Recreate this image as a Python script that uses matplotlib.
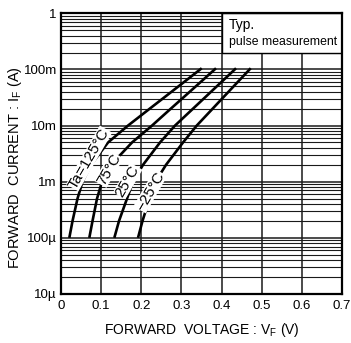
import matplotlib
matplotlib.use("Agg")
import matplotlib.pyplot as plt
from matplotlib.patches import Rectangle
from matplotlib.ticker import NullFormatter, LogLocator

plt.rcParams['font.family'] = ['Liberation Sans', 'DejaVu Sans']
plt.rcParams['mathtext.fontset'] = 'custom'
plt.rcParams['mathtext.rm'] = 'Liberation Sans'

# ---- data ----
i_levels = [1e-4, 2e-4, 5e-4, 1e-3, 2e-3, 5e-3, 1e-2, 2e-2, 5e-2, 0.105]
v_125 = [0.0207, 0.0287, 0.0411, 0.0536, 0.0747, 0.1171, 0.1669, 0.2210, 0.2927, 0.3505]
v_75 = [0.0705, 0.0785, 0.0897, 0.1021, 0.1245, 0.1769, 0.2267, 0.2735, 0.3358, 0.3861]
v_25 = [0.1328, 0.1445, 0.1644, 0.1794, 0.2043, 0.2466, 0.2840, 0.3288, 0.3881, 0.4360]
v_m25 = [0.1918, 0.2030, 0.2205, 0.2354, 0.2616, 0.3039, 0.3381, 0.3777, 0.4300, 0.4726]

series = [v_125, v_75, v_25, v_m25]
labels = ['Ta=125°C', '75°C', '25°C', '\u221225°C']
label_v = [0.0700, 0.1190, 0.1660, 0.2225]
label_i = [2.6e-3, 1.65e-3, 1.03e-3, 6.8e-4]

x_ticks = [0, 0.1, 0.2, 0.3, 0.4, 0.5, 0.6, 0.7]
x_ticklabels = ['0', '0.1', '0.2', '0.3', '0.4', '0.5', '0.6', '0.7']
y_ticks = [1e-5, 1e-4, 1e-3, 1e-2, 1e-1, 1]
y_ticklabels = ['10µ', '100µ', '1m', '10m', '100m', '1']

fig = plt.figure(figsize=(3.51, 3.43), dpi=100)
ax = fig.add_axes([0.1738, 0.1429, 0.9744 - 0.1738, 0.9612 - 0.1429])
ax.set_yscale('log')
ax.set_xlim(0, 0.7)
ax.set_ylim(1e-5, 1)

ax.set_xticks(x_ticks)
ax.set_xticklabels(x_ticklabels)
ax.set_yticks(y_ticks)
ax.set_yticklabels(y_ticklabels)
ax.yaxis.set_minor_locator(LogLocator(base=10, subs=range(2, 10), numticks=20))
ax.yaxis.set_minor_formatter(NullFormatter())
ax.tick_params(axis='both', which='both', length=0, labelsize=9.5)
ax.tick_params(axis='x', pad=4)
ax.tick_params(axis='y', pad=3)

ax.set_axisbelow(True)
ax.grid(True, which='major', axis='both', color='#1a1a1a', linewidth=1.1)
ax.grid(True, which='minor', axis='y', color='#1a1a1a', linewidth=0.8)

for sp in ax.spines.values():
    sp.set_linewidth(1.6)
    sp.set_color('black')

# note box
ax.add_patch(Rectangle((0.4, 0.2), 0.3, 0.8, facecolor='white', edgecolor='black',
                       linewidth=1.0, zorder=2))
ax.text(0.418, 0.63, 'Typ.', fontsize=10, va='center', ha='left', zorder=5)
ax.text(0.418, 0.31, 'pulse measurement', fontsize=8.8, va='center', ha='left', zorder=5)

for v in series:
    ax.plot(v, i_levels, color='black', linewidth=1.9, zorder=3,
            solid_capstyle='butt', solid_joinstyle='round')

for lab, lv, li in zip(labels, label_v, label_i):
    ax.text(lv, li, lab, rotation=60, fontsize=11, ha='center', va='center',
            rotation_mode='anchor', zorder=4,
            bbox=dict(facecolor='white', edgecolor='none', pad=0.1))

ax.set_xlabel('FORWARD  VOLTAGE : V$_{\\mathregular{F}}$ (V)', fontsize=10, labelpad=7)
ax.set_ylabel('FORWARD  CURRENT : I$_{\\mathregular{F}}$ (A)', fontsize=10.5)
ax.yaxis.set_label_coords(-0.13, 0.45)

fig.savefig('out.png', dpi=100)
